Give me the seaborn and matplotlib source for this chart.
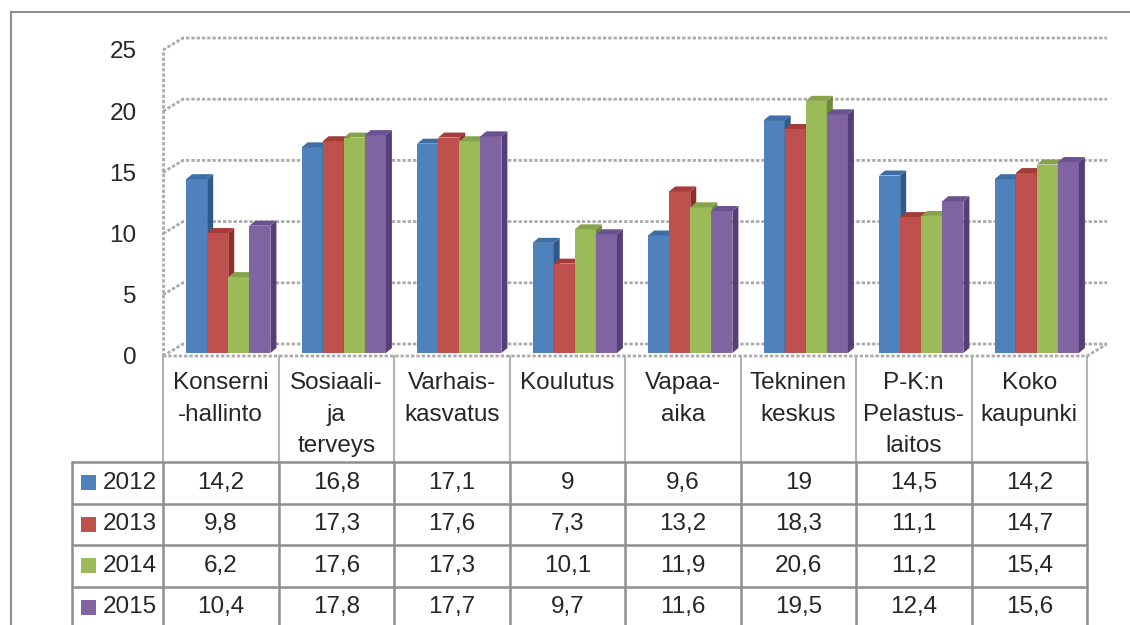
import matplotlib
matplotlib.use("Agg")
import matplotlib.pyplot as plt
import matplotlib.transforms as mtransforms
from matplotlib.patches import Polygon, Rectangle
import seaborn as sns
import pandas as pd

# data
categories = [
    "Konserni\n-hallinto",
    "Sosiaali-\nja\nterveys",
    "Varhais-\nkasvatus",
    "Koulutus",
    "Vapaa-\naika",
    "Tekninen\nkeskus",
    "P-K:n\nPelastus-\nlaitos",
    "Koko\nkaupunki",
]
years = ["2012", "2013", "2014", "2015"]
v2012 = [14.2, 16.8, 17.1, 9, 9.6, 19, 14.5, 14.2]
v2013 = [9.8, 17.3, 17.6, 7.3, 13.2, 18.3, 11.1, 14.7]
v2014 = [6.2, 17.6, 17.3, 10.1, 11.9, 20.6, 11.2, 15.4]
v2015 = [10.4, 17.8, 17.7, 9.7, 11.6, 19.5, 12.4, 15.6]
y_ticks = [0, 5, 10, 15, 20, 25]

series = [v2012, v2013, v2014, v2015]
df = pd.DataFrame(
    [(c, y, v) for y, vals in zip(years, series) for c, v in zip(categories, vals)],
    columns=["category", "year", "value"],
)

colors = ["#4F81BD", "#C0504D", "#9BBB59", "#8064A2"]
side_colors = ["#2f5b8c", "#8e2f2c", "#6f8a3a", "#563f78"]
top_colors = ["#3f6ea6", "#a63c39", "#86a34b", "#6a5190"]
GRID = "#ababab"
LINE = "#8f8f8f"

sns.set_style("white")
plt.rcParams["font.family"] = ["Liberation Sans", "DejaVu Sans"]
FS = 17.5

W, H = 1130, 625
fig = plt.figure(figsize=(W / 100, H / 100), dpi=100)

# pixel layout of the plot area (front plane)
X_LEFT, X_RIGHT = 163, 1087
Y_ZERO, Y_TOP = 356, 50
ppx = (X_RIGHT - X_LEFT) / len(categories)
ppy = (Y_ZERO - Y_TOP) / 25

# overlay in pixel coordinates for the table and frame
over = fig.add_axes([0, 0, 1, 1], zorder=0)
over.set_xlim(0, W)
over.set_ylim(H, 0)
over.axis("off")

ax = fig.add_axes(
    [X_LEFT / W, 1 - Y_ZERO / H, (X_RIGHT - X_LEFT) / W, (Y_ZERO - Y_TOP) / H],
    zorder=1,
)
ax.patch.set_alpha(0)

sns.barplot(
    data=df, x="category", y="value", hue="year", order=categories,
    hue_order=years, palette=colors, width=0.73, saturation=1,
    linewidth=0, legend=False, ax=ax,
)
ax.set_xlim(-0.5, len(categories) - 0.5)
ax.set_ylim(0, 25)
ax.set_xticks([])
ax.set_yticks(y_ticks)
ax.set_xlabel("")
ax.set_ylabel("")
ax.tick_params(axis="y", length=0, pad=19, labelsize=FS)
sns.despine(ax=ax, left=True, bottom=True)

# back wall gridlines, side wall and floor (3D look)
gx, gy = 20 / ppx, 12 / ppy
x0, x1 = -0.5, len(categories) - 0.5
grid_kw = dict(color=GRID, lw=2, ls=(0, (1.2, 0.7)), clip_on=False, zorder=0.5)
for t in y_ticks:
    ax.plot([x0, x0 + gx, x1 + gx], [t, t + gy, t + gy], **grid_kw)
ax.plot([x0, x0], [0, 25], **grid_kw)
ax.plot([x0, x1, x1 + gx], [0, 0, gy], **grid_kw)

# bars sit halfway into the depth; add side and top faces
bar_trans = mtransforms.offset_copy(ax.transData, fig=fig, x=7.5, y=3, units="dots")
dx, dy = 6 / ppx, 5 / ppy
for k, cont in enumerate(ax.containers):
    for p in cont.patches:
        p.set_transform(bar_trans)
        p.set_zorder(3 + k)
        bx, bw, bh = p.get_x(), p.get_width(), p.get_height()
        side = Polygon(
            [(bx + bw, 0), (bx + bw, bh), (bx + bw + dx, bh + dy), (bx + bw + dx, dy)],
            closed=True, facecolor=side_colors[k], edgecolor="none",
            transform=bar_trans, zorder=3 + k, clip_on=False,
        )
        top = Polygon(
            [(bx, bh), (bx + bw, bh), (bx + bw + dx, bh + dy), (bx + dx, bh + dy)],
            closed=True, facecolor=top_colors[k], edgecolor="none",
            transform=bar_trans, zorder=3 + k, clip_on=False,
        )
        ax.add_patch(side)
        ax.add_patch(top)

# data table
TABLE_LEFT = 72
HEADER_TOP, HEADER_BOTTOM = 356, 462
ROW_H = 41.5
col_edges = [X_LEFT + i * ppx for i in range(len(categories) + 1)]
row_edges = [HEADER_BOTTOM + i * ROW_H for i in range(len(years) + 1)]

for xe in col_edges:
    over.plot([xe, xe], [HEADER_TOP, HEADER_BOTTOM], color="#b3b3b3", lw=1.5)
    over.plot([xe, xe], [HEADER_BOTTOM, H + 5], color=LINE, lw=1.8)
over.plot([TABLE_LEFT, TABLE_LEFT], [HEADER_BOTTOM, H + 5], color=LINE, lw=1.8)
for ye in row_edges[:-1]:
    over.plot([TABLE_LEFT, X_RIGHT], [ye, ye], color=LINE, lw=1.8)

for i, lab in enumerate(categories):
    cx = X_LEFT + (i + 0.5) * ppx
    over.text(cx, 372, lab, ha="center", va="top", fontsize=FS, linespacing=1.56)

for r, (yr, vals) in enumerate(zip(years, series)):
    cy = HEADER_BOTTOM + (r + 0.5) * ROW_H
    over.add_patch(Rectangle((81, cy - 7.5), 15, 15, facecolor=colors[r], edgecolor="none"))
    over.text(103, cy, yr, ha="left", va="center", fontsize=FS)
    for i, v in enumerate(vals):
        cx = X_LEFT + (i + 0.5) * ppx
        over.text(cx, cy, f"{v:g}".replace(".", ","), ha="center", va="center", fontsize=FS)

# outer chart frame
over.plot([11, 11], [12, H + 5], color=LINE, lw=1.5)
over.plot([11, W + 5], [12, 12], color=LINE, lw=1.5)

fig.savefig("out.png", dpi=100)
